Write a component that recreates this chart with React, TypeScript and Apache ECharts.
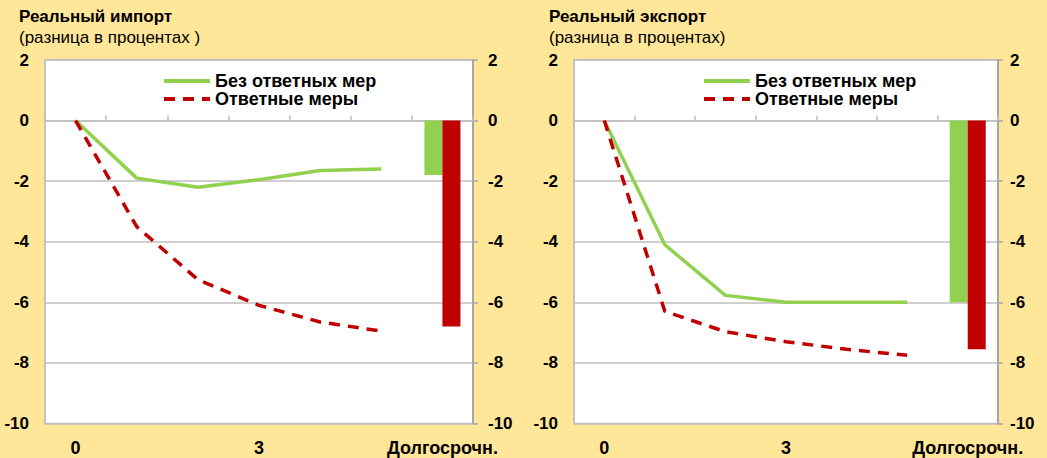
import React, { useEffect, useRef } from "react";
import * as echarts from "echarts";

const categories = ["0", "1", "2", "3", "4", "5", "Долгосрочн."];
const seriesNames = ["Без ответных мер", "Ответные меры"];

const importNoRetaliation = [0, -1.9, -2.2, -1.95, -1.65, -1.6];
const importRetaliation = [0, -3.5, -5.25, -6.1, -6.65, -6.95];
const importLongRun = [-1.8, -6.8];

const exportNoRetaliation = [0, -4.1, -5.77, -6.0, -6.0, -6.0];
const exportRetaliation = [0, -6.3, -6.97, -7.3, -7.55, -7.75];
const exportLongRun = [-6.0, -7.55];

const yTicks = { min: -10, max: 2, interval: 2 };

const FONT = "'Liberation Sans', Arial, sans-serif";
const GREEN = "#92D050";
const RED = "#C00000";
const GRID_GRAY = "#BFBFBF";
const AXIS_GRAY = "#A6A6A6";

function longRunBar(v: number) {
  return [null, null, null, null, null, null, v];
}

export default function App() {
  const ref = useRef<HTMLDivElement>(null);
  useEffect(() => {
    if (!ref.current) return;
    const chart = echarts.init(ref.current, undefined, { renderer: "svg" });

    const grids = [
      { left: 45, top: 60, width: 428, height: 363.5 },
      { left: 574, top: 60, width: 424, height: 363.5 },
    ];

    const xAxes = grids.map((_, i) => ({
      type: "category",
      gridIndex: i,
      data: categories,
      boundaryGap: true,
      axisLine: { lineStyle: { color: GRID_GRAY, width: 1.5 } },
      axisTick: { show: true, inside: true, length: 5, interval: 0, lineStyle: { color: GRID_GRAY, width: 1.5 } },
      axisLabel: {
        interval: (idx: number) => idx === 0 || idx === 3 || idx === 6,
        color: "#000",
        fontFamily: FONT,
        fontWeight: "bold",
        fontSize: 18,
        margin: 15,
      },
      splitLine: { show: false },
    }));

    const yAxes: any[] = [];
    grids.forEach((_, i) => {
      yAxes.push({
        type: "value",
        gridIndex: i,
        position: "left",
        ...yTicks,
        axisLine: { show: true, lineStyle: { color: GRID_GRAY, width: 1.5 } },
        axisTick: { show: false },
        axisLabel: { color: "#000", fontFamily: FONT, fontWeight: "bold", fontSize: 17, margin: 16 },
        splitLine: { show: true, lineStyle: { color: GRID_GRAY, width: 1.5 } },
      });
      yAxes.push({
        type: "value",
        gridIndex: i,
        position: "right",
        ...yTicks,
        axisLine: { show: true, lineStyle: { color: AXIS_GRAY, width: 2 } },
        axisTick: { show: true, inside: false, length: 5, lineStyle: { color: AXIS_GRAY, width: 1.5 } },
        axisLabel: { color: "#000", fontFamily: FONT, fontWeight: "bold", fontSize: 17, margin: i === 0 ? 15 : 12 },
        splitLine: { show: false },
      });
    });

    const lineSeries = (name: string, data: number[], i: number, dashed: boolean) => ({
      type: "line",
      name,
      xAxisIndex: i,
      yAxisIndex: i * 2,
      data,
      symbol: "none",
      lineStyle: dashed
        ? { color: RED, width: 3.5, type: [11, 8] }
        : { color: GREEN, width: 3.5 },
      itemStyle: { color: dashed ? RED : GREEN },
      z: 3,
    });

    const barSeries = (name: string, v: number, i: number, color: string) => ({
      type: "bar",
      name,
      xAxisIndex: i,
      yAxisIndex: i * 2,
      data: longRunBar(v),
      barWidth: 18,
      barGap: "0%",
      itemStyle: { color },
    });

    const titleStyle = { fontFamily: FONT, fontSize: 17, fontWeight: "bold", color: "#000" };
    const subStyle = { fontFamily: FONT, fontSize: 17, color: "#000" };

    const option: any = {
      animation: false,
      backgroundColor: "#FFE699",
      textStyle: { fontFamily: FONT },
      title: [
        {
          text: "Реальный импорт",
          subtext: "(разница в процентах )",
          left: 19,
          top: 8,
          padding: 0,
          itemGap: 4,
          textStyle: titleStyle,
          subtextStyle: subStyle,
        },
        {
          text: "Реальный экспорт",
          subtext: "(разница в процентах)",
          left: 549,
          top: 8,
          padding: 0,
          itemGap: 4,
          textStyle: titleStyle,
          subtextStyle: subStyle,
        },
      ],
      legend: [162, 702].map((left) => ({
        data: seriesNames,
        orient: "vertical",
        left,
        top: 72,
        padding: 0,
        itemWidth: 46,
        itemHeight: 14,
        itemGap: 0,
        selectedMode: false,
        itemStyle: { opacity: 0 },
        lineStyle: { width: 4 },
        textStyle: { fontFamily: FONT, fontSize: 18, fontWeight: "bold", color: "#000" },
      })),
      grid: grids.map((g) => ({
        ...g,
        show: true,
        backgroundColor: "#FFFFFF",
        borderColor: GRID_GRAY,
        borderWidth: 1.5,
        containLabel: false,
      })),
      xAxis: xAxes,
      yAxis: yAxes,
      series: [
        barSeries("Без ответных мер (долгосрочн.)", importLongRun[0], 0, GREEN),
        barSeries("Ответные меры (долгосрочн.)", importLongRun[1], 0, RED),
        lineSeries(seriesNames[0], importNoRetaliation, 0, false),
        lineSeries(seriesNames[1], importRetaliation, 0, true),
        barSeries("Без ответных мер (долгосрочн.) ", exportLongRun[0], 1, GREEN),
        barSeries("Ответные меры (долгосрочн.) ", exportLongRun[1], 1, RED),
        lineSeries(seriesNames[0], exportNoRetaliation, 1, false),
        lineSeries(seriesNames[1], exportRetaliation, 1, true),
      ],
    };

    chart.setOption(option);
    return () => chart.dispose();
  }, []);

  return (
    <div
      ref={ref}
      style={{ position: "fixed", left: 0, top: 0, width: 1047, height: 458 }}
    />
  );
}
